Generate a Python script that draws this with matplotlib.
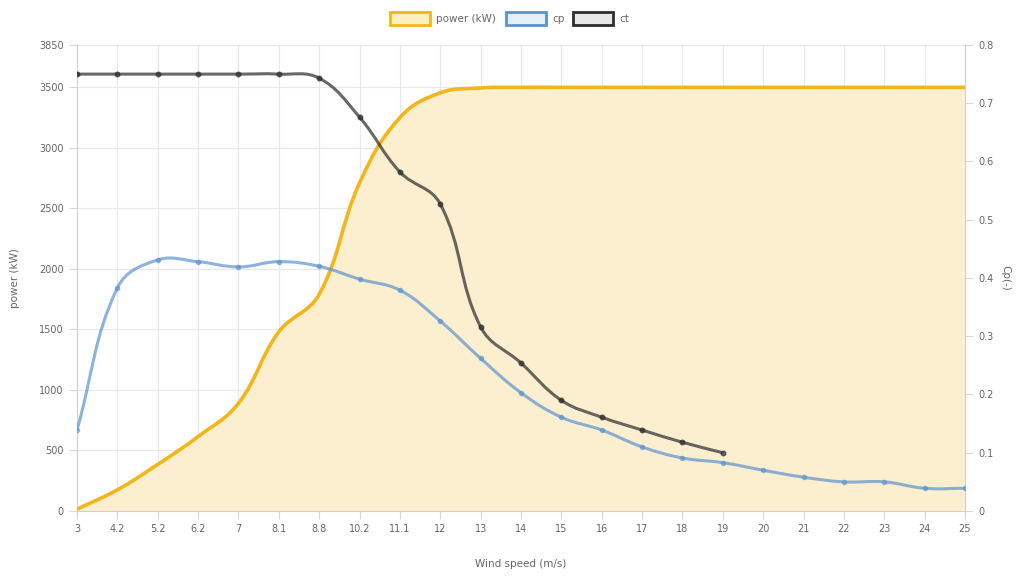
import matplotlib
matplotlib.use("Agg")
import matplotlib.pyplot as plt
import numpy as np
from matplotlib.path import Path
from matplotlib.patches import PathPatch, Rectangle

# data
wind_speed = ['3', '4.2', '5.2', '6.2', '7', '8.1', '8.8', '10.2', '11.1', '12', '13', '14',
              '15', '16', '17', '18', '19', '20', '21', '22', '23', '24', '25']
power_kw = [15, 175, 385, 615, 890, 1480, 1790, 2710, 3250, 3455, 3495, 3500,
            3500, 3500, 3500, 3500, 3500, 3500, 3500, 3500, 3500, 3500, 3500]
cp = [0.139, 0.383, 0.431, 0.428, 0.419, 0.428, 0.42, 0.398, 0.379, 0.326, 0.262, 0.203,
      0.161, 0.139, 0.11, 0.091, 0.083, 0.07, 0.058, 0.05, 0.05, 0.039, 0.039]
ct = [0.75, 0.75, 0.75, 0.75, 0.75, 0.75, 0.743, 0.676, 0.582, 0.527, 0.316, 0.254,
      0.19, 0.161, 0.139, 0.118, 0.10]

POWER_LINE = '#f3b51a'
POWER_FILL = '#fcefcf'
CP_COLOR = '#5b93d0'
CT_COLOR = '#2e2e2e'
GRID = '#e8e8e8'
TXT = '#666666'


def spline_path(ax, xs, ys, tension=0.4):
    """Chart.js style bezier through the points, built in pixel space."""
    pts = ax.transData.transform(np.column_stack([xs, ys]))
    n = len(pts)
    verts = [pts[0]]
    codes = [Path.MOVETO]
    cps = []
    for i in range(n):
        p0 = pts[max(i - 1, 0)]
        p1 = pts[i]
        p2 = pts[min(i + 1, n - 1)]
        d01 = np.hypot(*(p1 - p0))
        d12 = np.hypot(*(p2 - p1))
        tot = d01 + d12
        fa = tension * d01 / tot if tot else 0
        fb = tension * d12 / tot if tot else 0
        cps.append((p1 - fa * (p2 - p0), p1 + fb * (p2 - p0)))
    for i in range(1, n):
        verts += [cps[i - 1][1], cps[i][0], pts[i]]
        codes += [Path.CURVE4] * 3
    verts = ax.transData.inverted().transform(np.array(verts))
    return verts, codes


fig = plt.figure(figsize=(10.23, 5.82), dpi=100)
ax = fig.add_axes([0.0753, 0.122, 0.868, 0.8007])
ax2 = ax.twinx()

x = np.arange(len(wind_speed))
ax.set_xlim(0, len(wind_speed) - 1)
ax.set_ylim(0, 3850)
ax2.set_ylim(0, 0.8)

# power: filled area + smooth line
verts, codes = spline_path(ax, x, power_kw)
fill_verts = np.vstack([verts, [[x[-1], 0], [x[0], 0], verts[0]]])
fill_codes = codes + [Path.LINETO, Path.LINETO, Path.CLOSEPOLY]
ax.add_patch(PathPatch(Path(fill_verts, fill_codes), facecolor=POWER_FILL,
                       edgecolor='none', zorder=1))
ax.add_patch(PathPatch(Path(verts, codes), facecolor='none', edgecolor=POWER_LINE,
                       lw=2.6, zorder=3, capstyle='round'))

# cp and ct on the right axis
v, c = spline_path(ax2, x, cp)
ax2.add_patch(PathPatch(Path(v, c), facecolor='none', edgecolor=CP_COLOR, lw=2.2,
                        alpha=0.7, zorder=4))
ax2.plot(x, cp, 'o', ms=3, color=CP_COLOR, alpha=0.6, zorder=4)

xc = x[:len(ct)]
v, c = spline_path(ax2, xc, ct)
ax2.add_patch(PathPatch(Path(v, c), facecolor='none', edgecolor=CT_COLOR, lw=2.2,
                        alpha=0.72, zorder=5))
ax2.plot(xc, ct, 'o', ms=3.3, color=CT_COLOR, alpha=0.7, zorder=5)

# grid and axes styling
ax.set_xticks(x)
ax.set_xticklabels(wind_speed)
ax.set_yticks([0, 500, 1000, 1500, 2000, 2500, 3000, 3500, 3850])
ax.grid(True, color=GRID, lw=0.8, zorder=0)
ax.set_axisbelow(True)
ax2.set_yticks(np.arange(0, 0.81, 0.1))
ax2.set_yticklabels(['0'] + ['%.1f' % t for t in np.arange(0.1, 0.81, 0.1)])

for a in (ax, ax2):
    for s in a.spines.values():
        s.set_visible(False)
    a.tick_params(colors='#d8d8d8', labelcolor=TXT, labelsize=7, length=6, width=0.8)
ax.spines['left'].set_visible(True)
ax.spines['left'].set_color('#d0d0d0')
ax.spines['bottom'].set_visible(True)
ax.spines['bottom'].set_color('#d0d0d0')
ax2.spines['right'].set_visible(True)
ax2.spines['right'].set_color('#d0d0d0')

ax.set_ylabel('power (kW)', fontsize=7.5, color=TXT, labelpad=14)
ax2.set_ylabel('Cp(-)', fontsize=7.5, color=TXT, rotation=270, labelpad=12)
ax.set_xlabel('Wind speed (m/s)', fontsize=7.5, color=TXT, labelpad=18)

# legend drawn at the top
legend_items = [('power (kW)', POWER_LINE, '#fdf0c0'),
                ('cp', CP_COLOR, '#e6eef8'),
                ('ct', CT_COLOR, '#e8e8e8')]
W, H = 1023.0, 582.0
lx = 390
for label, edge, face in legend_items:
    fig.patches.append(Rectangle((lx / W, 1 - 25 / H), 40 / W, 13 / H, transform=fig.transFigure,
                                 facecolor=face, edgecolor=edge, lw=2))
    fig.text((lx + 46) / W, 1 - 18.5 / H, label, fontsize=7.5, color=TXT, va='center')
    lx += 46 + (len(label) * 5.6) + 14 if label != 'cp' else 46 + 12 + 9

fig.savefig('out.png', dpi=100, facecolor='white')
